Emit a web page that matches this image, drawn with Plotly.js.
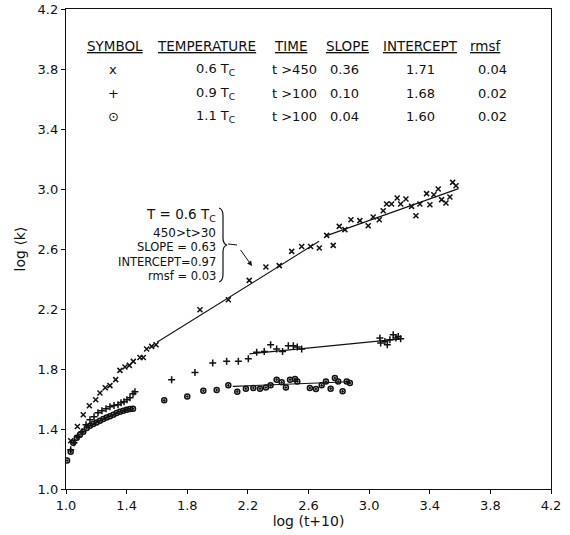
<!DOCTYPE html>
<html>
<head>
<meta charset="utf-8">
<script src="https://cdn.plot.ly/plotly-3.0.1.min.js"></script>
<style>html,body{margin:0;padding:0;background:#fff;}#chart{width:570px;height:535px;}</style>
</head>
<body>
<div id="chart"></div>
<script>
// ---- data ----
// symbol x : T = 0.6 Tc
const crossX = [1.031,1.075,1.114,1.154,1.196,1.224,1.259,1.290,1.328,1.356,1.389,1.418,1.444,1.488,1.510,1.532,1.565,1.594,1.884,2.071,2.209,2.319,2.407,2.489,2.555,2.614,2.671,2.763,2.720,2.803,2.840,2.880,2.939,2.994,3.027,3.067,3.093,3.115,3.148,3.185,3.208,3.243,3.280,3.309,3.335,3.379,3.401,3.427,3.456,3.478,3.507,3.533,3.551,3.573];
const crossY = [1.322,1.417,1.495,1.555,1.595,1.640,1.675,1.689,1.729,1.791,1.813,1.824,1.851,1.877,1.877,1.933,1.951,1.962,2.195,2.262,2.391,2.480,2.489,2.584,2.617,2.617,2.607,2.624,2.691,2.751,2.729,2.795,2.789,2.755,2.813,2.795,2.855,2.900,2.900,2.940,2.900,2.933,2.884,2.822,2.900,2.969,2.895,2.962,3.000,2.929,2.907,2.947,3.044,3.022];
// symbol + : T = 0.9 Tc
const plusX = [1.031,1.053,1.079,1.106,1.132,1.158,1.185,1.211,1.237,1.264,1.290,1.317,1.343,1.363,1.383,1.402,1.422,1.442,1.455,1.697,1.851,1.968,2.060,2.137,2.203,2.258,2.308,2.350,2.390,2.429,2.467,2.500,2.526,2.555,3.071,3.076,3.104,3.120,3.137,3.159,3.177,3.192,3.208];
const plusY = [1.262,1.309,1.349,1.382,1.429,1.462,1.482,1.509,1.522,1.535,1.549,1.556,1.562,1.575,1.582,1.595,1.609,1.635,1.649,1.729,1.777,1.840,1.851,1.851,1.869,1.911,1.917,1.962,1.933,1.917,1.955,1.955,1.947,1.933,2.007,1.973,1.984,1.962,1.995,2.029,2.007,2.017,2.002];
// symbol o : T = 1.1 Tc
const circX = [1.007,1.031,1.048,1.071,1.092,1.114,1.137,1.158,1.180,1.202,1.224,1.246,1.268,1.290,1.312,1.334,1.356,1.378,1.400,1.422,1.442,1.648,1.800,1.906,1.994,2.071,2.130,2.187,2.236,2.280,2.319,2.350,2.390,2.423,2.451,2.478,2.511,2.526,2.609,2.649,2.687,2.715,2.746,2.774,2.796,2.825,2.852,2.873];
const circY = [1.190,1.249,1.309,1.342,1.362,1.382,1.407,1.422,1.433,1.444,1.455,1.467,1.477,1.485,1.495,1.507,1.515,1.522,1.529,1.533,1.535,1.591,1.617,1.655,1.660,1.691,1.649,1.669,1.673,1.669,1.677,1.691,1.729,1.711,1.677,1.729,1.733,1.717,1.673,1.667,1.691,1.717,1.669,1.740,1.717,1.651,1.717,1.707];

// fitted lines: log<k> = intercept + slope * log(t+10)
const fitSlope     = [0.63, 0.36, 0.10, 0.04];
const fitIntercept = [0.97, 1.71, 1.68, 1.60];
const fitFrom      = [1.60, 2.72, 2.21, 2.10];
const fitTo        = [2.67, 3.59, 3.21, 2.87];

// table text
const tableHeaders    = ['SYMBOL','TEMPERATURE','TIME','SLOPE','INTERCEPT','rmsf'];
const tableSymbols    = ['x','+','\u2299'];
const tableTemps      = ['0.6 T<sub>C</sub>','0.9 T<sub>C</sub>','1.1 T<sub>C</sub>'];
const tableTimes      = ['t >450','t >100','t >100'];
const tableSlopes     = ['0.36','0.10','0.04'];
const tableIntercepts = ['1.71','1.68','1.60'];
const tableRmsf       = ['0.04','0.02','0.02'];
const noteLines = ['T = 0.6 T<sub>C</sub>','450>t>30','SLOPE = 0.63','INTERCEPT=0.97','rmsf = 0.03'];

const xTicks = ['1.0','1.4','1.8','2.2','2.6','3.0','3.4','3.8','4.2'];
const yTicks = ['1.0','1.4','1.8','2.2','2.6','3.0','3.4','3.8','4.2'];

// ---- layout geometry ----
const L = 66, R = 551, T = 9, B = 489;
const px2p = px => (px - L) / (R - L);
const py2p = py => (B - py) / (B - T);
const FONT = 'DejaVu Sans, sans-serif';
const INK = '#111';

const traces = [];
traces.push({x: crossX, y: crossY, mode: 'markers', type: 'scatter',
  marker: {symbol: 'x-thin-open', size: 5, color: INK, line: {color: INK, width: 1.5}}});
traces.push({x: plusX, y: plusY, mode: 'markers', type: 'scatter',
  marker: {symbol: 'cross-thin-open', size: 5, color: INK, line: {color: INK, width: 1.5}}});
traces.push({x: circX, y: circY, mode: 'markers', type: 'scatter',
  marker: {symbol: 'circle-open-dot', size: 5, color: INK, line: {color: INK, width: 1.5}}});
for (let i = 0; i < fitSlope.length; i++) {
  const xs = [fitFrom[i], fitTo[i]];
  traces.push({x: xs, y: xs.map(v => fitIntercept[i] + fitSlope[i] * v), mode: 'lines', type: 'scatter',
    line: {color: INK, width: 1.1}});
}

const annotations = [];
const colX = [115, 206, 290, 347, 420, 485];
const rowColX = [113, 215, 294, 344, 420, 492];
tableHeaders.forEach((h, j) => annotations.push({
  text: '<u>' + h + '</u>', xref: 'paper', yref: 'paper', x: px2p(colX[j]), y: py2p(46),
  xanchor: 'center', yanchor: 'middle', showarrow: false, font: {family: FONT, size: 13.5, color: INK}}));
const rowsPy = [69, 93, 117];
const cols = [tableSymbols, tableTemps, tableTimes, tableSlopes, tableIntercepts, tableRmsf];
for (let r = 0; r < 3; r++) {
  cols.forEach((c, j) => annotations.push({
    text: c[r], xref: 'paper', yref: 'paper', x: px2p(rowColX[j]), y: py2p(rowsPy[r]),
    xanchor: 'center', yanchor: 'middle', showarrow: false, font: {family: FONT, size: 13, color: INK}}));
}
const notePy = [215, 233, 247.5, 261.5, 275.5];
const noteSize = [13.5, 12, 11.5, 11.5, 11.5];
noteLines.forEach((t, i) => annotations.push({
  text: t, xref: 'paper', yref: 'paper', x: px2p(218), y: py2p(notePy[i]),
  xanchor: 'right', yanchor: 'middle', showarrow: false, font: {family: FONT, size: noteSize[i], color: INK}}));
// arrow
annotations.push({text: ' ', xref: 'paper', yref: 'paper', x: px2p(252), y: py2p(266),
  ax: -15, ay: -21, showarrow: true, arrowhead: 2, arrowsize: 1, arrowwidth: 1, arrowcolor: INK});

// brace path
const bx = v => px2p(v).toFixed(4), by = v => py2p(v).toFixed(4);
const bracePath = `M ${bx(219)} ${by(208)} Q ${bx(223)} ${by(209)} ${bx(223)} ${by(216)} L ${bx(223)} ${by(238)} Q ${bx(223)} ${by(244)} ${bx(227)} ${by(245)} Q ${bx(223)} ${by(246)} ${bx(223)} ${by(252)} L ${bx(223)} ${by(274)} Q ${bx(223)} ${by(281)} ${bx(219)} ${by(282)}`;
const shapes = [
  {type: 'path', xref: 'paper', yref: 'paper', path: bracePath, line: {color: INK, width: 1.2}},
  {type: 'line', xref: 'paper', yref: 'paper', x0: px2p(228), y0: py2p(244), x1: px2p(237), y1: py2p(245), line: {color: INK, width: 1}}
];

const layout = {
  width: 570, height: 535,
  margin: {l: L, r: 570 - R, t: T, b: 535 - B, pad: 0},
  paper_bgcolor: '#fff', plot_bgcolor: '#fff',
  showlegend: false,
  font: {family: FONT, size: 13, color: INK},
  xaxis: {range: [1.0, 4.2], tickvals: xTicks.map(Number), ticktext: xTicks,
    showgrid: false, zeroline: false, showline: true, mirror: true, linecolor: INK, linewidth: 1.2,
    ticks: 'outside', ticklen: 4, tickcolor: INK, tickfont: {family: FONT, size: 13, color: INK},
    title: {text: 'log (t+10)', font: {family: FONT, size: 14, color: INK}, standoff: 4}},
  yaxis: {range: [1.0, 4.2], tickvals: yTicks.map(Number), ticktext: yTicks,
    showgrid: false, zeroline: false, showline: true, mirror: true, linecolor: INK, linewidth: 1.2,
    ticks: 'outside', ticklen: 4, tickcolor: INK, tickfont: {family: FONT, size: 13, color: INK},
    title: {text: 'log \u27E8k\u27E9', font: {family: FONT, size: 14, color: INK}, standoff: 8}},
  annotations: annotations,
  shapes: shapes
};

Plotly.newPlot('chart', traces, layout, {staticPlot: true, displayModeBar: false});
</script>
</body>
</html>
